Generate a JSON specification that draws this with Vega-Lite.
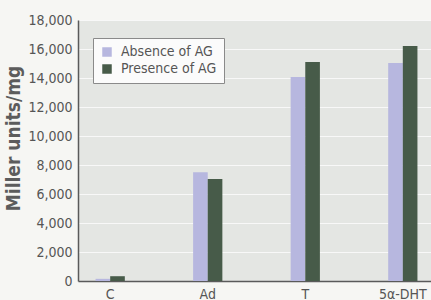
{
  "$schema": "https://vega.github.io/schema/vega-lite/v6.json",
  "autosize": {"type": "none"},
  "padding": {"left": 78, "top": 20, "right": 0, "bottom": 19},
  "width": 353,
  "height": 261,
  "background": "#f6f6f3",
  "config": {
    "view": {"fill": "#e4e6e3", "stroke": null},
    "font": "DejaVu Sans Condensed, Roboto, sans-serif"
  },
  "data": {
    "values": [
      {"steroid": "C", "condition": "Absence of AG", "value": 150},
      {"steroid": "C", "condition": "Presence of AG", "value": 330},
      {"steroid": "Ad", "condition": "Absence of AG", "value": 7500},
      {"steroid": "Ad", "condition": "Presence of AG", "value": 7030},
      {"steroid": "T", "condition": "Absence of AG", "value": 14070},
      {"steroid": "T", "condition": "Presence of AG", "value": 15100},
      {"steroid": "5α-DHT", "condition": "Absence of AG", "value": 15030},
      {"steroid": "5α-DHT", "condition": "Presence of AG", "value": 16200}
    ]
  },
  "mark": {"type": "bar"},
  "encoding": {
    "x": {
      "field": "steroid",
      "type": "nominal",
      "sort": ["C", "Ad", "T", "5α-DHT"],
      "scale": {"range": [0, 357], "paddingInner": 0.7, "paddingOuter": 0.18},
      "axis": {
        "title": null,
        "labelAngle": 0,
        "labelFontSize": 14,
        "labelColor": "#555555",
        "labelPadding": 6,
        "ticks": false,
        "domainColor": "#5a5a5a",
        "domainWidth": 1.5
      }
    },
    "xOffset": {"field": "condition", "type": "nominal", "scale": {"paddingInner": 0, "paddingOuter": 0}},
    "y": {
      "field": "value",
      "type": "quantitative",
      "scale": {"domain": [0, 18000]},
      "axis": {
        "title": "Miller units/mg",
        "titleFontSize": 19,
        "titleFontWeight": "bold",
        "titleColor": "#5c5c5c",
        "titlePadding": 4,
        "titleY": 118,
        "values": [0, 2000, 4000, 6000, 8000, 10000, 12000, 14000, 16000, 18000],
        "format": ",d",
        "labelFontSize": 14,
        "labelColor": "#555555",
        "labelPadding": 6,
        "ticks": false,
        "grid": true,
        "gridColor": "#f8f8f8",
        "gridWidth": 1,
        "domainColor": "#5a5a5a",
        "domainWidth": 1.5
      }
    },
    "color": {
      "field": "condition",
      "type": "nominal",
      "scale": {"domain": ["Absence of AG", "Presence of AG"], "range": ["#b7b7df", "#475b49"]},
      "legend": {
        "title": null,
        "orient": "none",
        "legendX": 15,
        "legendY": 18,
        "fillColor": "#fbfbfb",
        "strokeColor": "#8a8a8a",
        "padding": 7,
        "symbolType": "square",
        "symbolSize": 90,
        "symbolStrokeWidth": 0,
        "labelFontSize": 14,
        "labelColor": "#555555",
        "rowPadding": 3,
        "labelOffset": 7
      }
    }
  }
}
